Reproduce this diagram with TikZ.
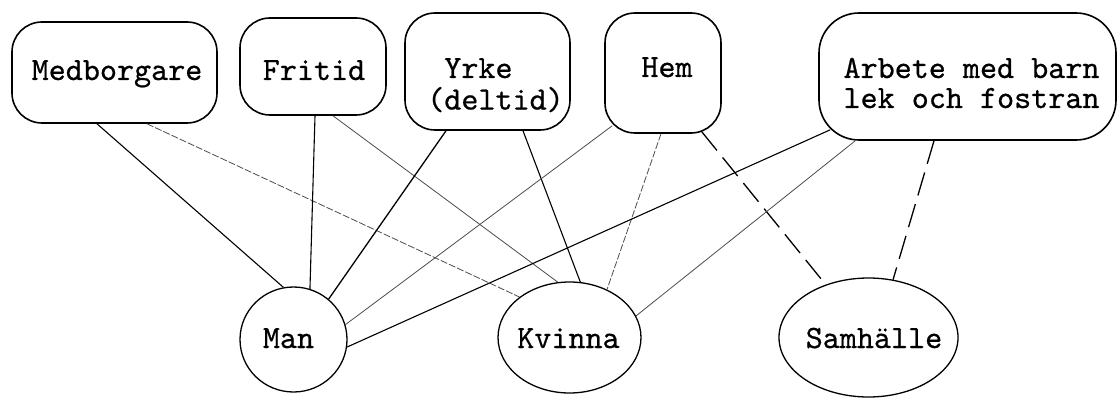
\documentclass[tikz,border=0pt]{standalone}
\usepackage{fontspec}
\usetikzlibrary{shapes.geometric}
\newfontfamily\tw[FakeBold=0.6]{lmmono10-regular.otf}
\begin{document}
\begin{tikzpicture}[x=1pt,y=-1pt,
  boxst/.style={draw, line width=1.6pt, rectangle, rounded corners=30pt, inner sep=0pt},
  blob/.style={draw, line width=1.3pt, ellipse, inner sep=0pt},
  txt/.style={font=\tw\fontsize{32.5}{30}\selectfont, inner sep=0pt, anchor=base},
  link/.style={line width=1.1pt},
  faint/.style={line width=0.8pt, black!70},
  dotlink/.style={faint, dash pattern=on 7pt off 2pt},
  dashlink/.style={line width=1.3pt, dash pattern=on 24pt off 9pt}]
\fill[white] (0,0) rectangle (1118,398);
\useasboundingbox (0,0) rectangle (1118,398);
% shapes
\node[boxst, minimum width=205pt, minimum height=101pt] (med) at (114.5,72.5) {};
\node[boxst, minimum width=146pt, minimum height=97pt] (fri) at (313,66.5) {};
\node[boxst, minimum width=165pt, minimum height=117pt] (yrk) at (487.5,71.5) {};
\node[boxst, minimum width=116pt, minimum height=120pt] (hem) at (663,73) {};
\node[boxst, minimum width=297pt, minimum height=127pt, rounded corners=40pt] (arb) at (967.5,76.5) {};
\node[blob, minimum width=107pt, minimum height=105pt] (man) at (293.5,339.5) {};
\node[blob, minimum width=143pt, minimum height=111pt] (kvi) at (569.5,337.5) {};
\node[blob, minimum width=179pt, minimum height=119pt] (sam) at (868.5,337.5) {};
% texts
\node[txt] (medT) at (117,80) {Medborgare};
\node[txt] (friT) at (314,80) {Fritid};
\node[txt] (yrkT) at (495.5,78) {\begin{tabular}[t]{@{}l@{}}\phantom{(}Yrke\\(deltid)\end{tabular}};
\node[txt] (hemT) at (667,77) {Hem};
\node[txt] (arbT) at (971.5,78) {\begin{tabular}[t]{@{}l@{}}Arbete med barn\\lek och fostran\end{tabular}};
\node[txt] (manT) at (288.5,348) {Man};
\node[txt] (kviT) at (568.5,348) {Kvinna};
\node[txt] (samT) at (874,348) {Samhälle};
% connectors
\draw[link] ([xshift=-17.5pt]med.south) -- (man.101);
\draw[dotlink] ([xshift=32.5pt]med.south) -- (kvi.141);
\draw[link] ([xshift=2pt]fri.south) -- (man.72);
\draw[faint] ([xshift=20pt]fri.south) -- (kvi.102);
\draw[link, line width=1.3pt] ([xshift=-41.5pt]yrk.south) -- (man.49);
\draw[link] ([xshift=35.5pt]yrk.south) -- (kvi.79);
\draw[faint] ([xshift=8pt,yshift=8pt]hem.south west) -- (man.16);
\draw[dotlink] ([xshift=-2pt]hem.south) -- (kvi.52);
\draw[dashlink] ([xshift=-20pt,yshift=2pt]hem.south east) -- (sam.129);
\draw[link] ([xshift=12pt,yshift=11pt]arb.south west) -- (man.-8);
\draw[faint] ([xshift=37pt]arb.south west) -- (kvi.18);
\draw[dashlink] ([xshift=-33.5pt]arb.south) -- (sam.67);
\end{tikzpicture}
\end{document}
